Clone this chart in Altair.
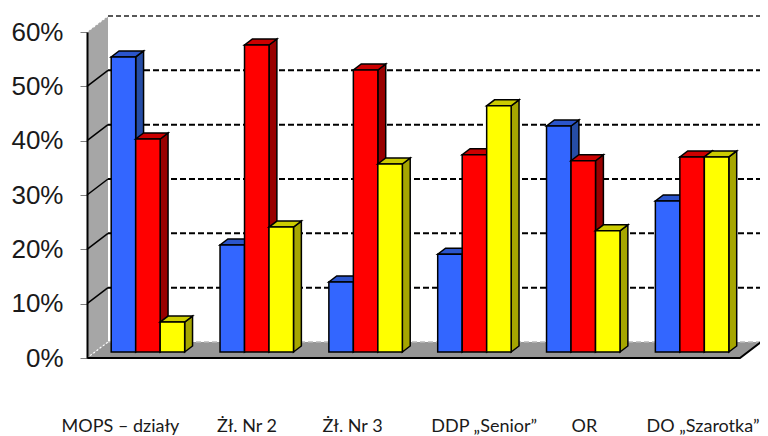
import altair as alt
import pandas as pd

categories = ["MOPS – działy", "Żł. Nr 2", "Żł. Nr 3", "DDP „Senior”", "OR", "DO „Szarotka”"]
blue = [54.3, 19.7, 12.9, 18.0, 41.6, 27.8]
red = [39.2, 56.5, 51.9, 36.3, 35.2, 35.9]
yellow = [5.5, 23.0, 34.6, 45.3, 22.3, 35.9]
label_pos = [0.307, 1.47, 2.44, 3.65, 4.57, 5.66]
ticks = [0, 10, 20, 30, 40, 50, 60]

series = [
    (blue, "#3366FF", "#2B55CC", "#264DA6"),
    (red, "#FF0000", "#CC0000", "#990000"),
    (yellow, "#FFFF00", "#CCCC00", "#A6A600"),
]

PLOT_W, PLOT_H = 653, 326
DX, DY = 21 / PLOT_W * 6, 16 / PLOT_H * 60
BAR_W, GAP = 0.225, 0.15
D0, D1 = 0.375, 0.75


def pt(cat, pct, depth):
    return cat + depth * DX, pct + depth * DY


polys = []


def area(pid, fill, rows):
    for x, y, y2 in rows:
        polys.append(dict(poly=pid, fill=fill, x=x, y=y, y2=y2))


def side(pid, fill, cat, lo, hi, d0, d1):
    x0, a = pt(cat, lo, d0)
    _, b = pt(cat, hi, d0)
    x1, c = pt(cat, lo, d1)
    _, e = pt(cat, hi, d1)
    area(pid, fill, [(x0, a, b), (x1, c, e)])


def top(pid, fill, c0, c1, v, d0, d1):
    ax, ay = pt(c0, v, d0)
    bx, by = pt(c1, v, d0)
    cx, cy = pt(c0, v, d1)
    dx, dy = pt(c1, v, d1)
    area(pid, fill, [(ax, ay, ay), (cx, ay, cy), (bx, by, dy), (dx, dy, dy)])


n = 0
for g in range(len(categories)):
    for s, (vals, front, topc, sidec) in enumerate(series):
        c0 = g + GAP + s * BAR_W
        c1 = c0 + BAR_W
        v = vals[g]
        fx0, base = pt(c0, 0, D0)
        fx1, vtop = pt(c1, v, D0)
        side(f"{n:03d}s", sidec, c1, 0, v, D0, D1)
        top(f"{n:03d}t", topc, c0, c1, v, D0, D1)
        area(f"{n:03d}f", front, [(fx0, base, vtop), (fx1, base, vtop)])
        n += 1
bars = pd.DataFrame(polys)

polys = []
side("a_wall", "#A6A6A6", 0, 0, 60, 0, 1)
top("b_floor", "#969696", 0, 6, 0, 0, 1)
walls = pd.DataFrame(polys)

lines = {"grid": [], "grid60": [], "grid0": [], "slant": [], "slantw": [], "base": []}
for t in ticks:
    x0, y0 = pt(0, t, 1)
    x1, y1 = pt(6, t, 1)
    key = "grid60" if t == 60 else ("grid0" if t == 0 else "grid")
    lines[key] += [dict(id=t, x=x0, y=y0), dict(id=t, x=x1, y=y1)]
    sx, sy = pt(0, t, 0)
    key = "slantw" if t in (0, 60) else "slant"
    lines[key] += [dict(id=t, x=sx, y=sy), dict(id=t, x=x0, y=y0)]
bx, by = pt(6, 0, 1)
lines["base"] = [dict(id=0, x=0, y=0), dict(id=0, x=6, y=0), dict(id=0, x=bx, y=by)]

xs = alt.Scale(domain=[0, 6], nice=False, zero=False)
ys = alt.Scale(domain=[0, 60], nice=False, zero=False)
X = alt.X("x:Q", scale=xs, axis=None)
Y = alt.Y("y:Q", scale=ys, title=None,
          axis=alt.Axis(values=ticks, labelExpr="datum.value + '%'", grid=False, zindex=1,
                        domainColor="#000000", domainWidth=2, tickColor="#7F7F7F", tickSize=7,
                        tickWidth=1, labelFont="Liberation Sans", labelFontSize=26,
                        labelColor="#1A1A1A", labelPadding=17))


def line(key, color, width, dash=None):
    kw = dict(color=color, strokeWidth=width, clip=False)
    if dash:
        kw["strokeDash"] = dash
    return alt.Chart(pd.DataFrame(lines[key])).mark_line(**kw).encode(x=X, y=Y, detail="id:N")


wall_layer = alt.Chart(walls).mark_area(clip=False).encode(
    x=X, y=Y, y2="y2:Q", detail="poly:N", color=alt.Color("fill:N", scale=None))
bar_layer = alt.Chart(bars).mark_area(clip=False, stroke="black", strokeWidth=1.5, strokeJoin="miter").encode(
    x=X, y=Y, y2="y2:Q", detail="poly:N", color=alt.Color("fill:N", scale=None))
labels = pd.DataFrame({"x": label_pos, "y": [-13.6] * 6, "t": categories})
text_layer = alt.Chart(labels).mark_text(
    font="Lato", fontSize=18, color="#1A1A1A", clip=False, baseline="alphabetic"
).encode(x=X, y=Y, text="t:N")

chart = alt.layer(
    line("grid", "black", 2, [6, 3]),
    line("grid60", "#222222", 1.3, [5, 3]),
    wall_layer,
    line("grid0", "#BBBBBB", 1.3, [5, 3]),
    line("slant", "black", 1.5),
    line("slantw", "white", 1.2, [2, 2]),
    line("base", "black", 2),
    bar_layer,
    text_layer,
).properties(
    width=PLOT_W, height=PLOT_H,
    autosize=alt.AutoSizeParams(type="none"),
    padding={"left": 79, "top": 24, "right": 20, "bottom": 78},
    background="white",
).configure_view(stroke=None)

chart.save("out.html", embed_options={"renderer": "svg", "actions": False})
